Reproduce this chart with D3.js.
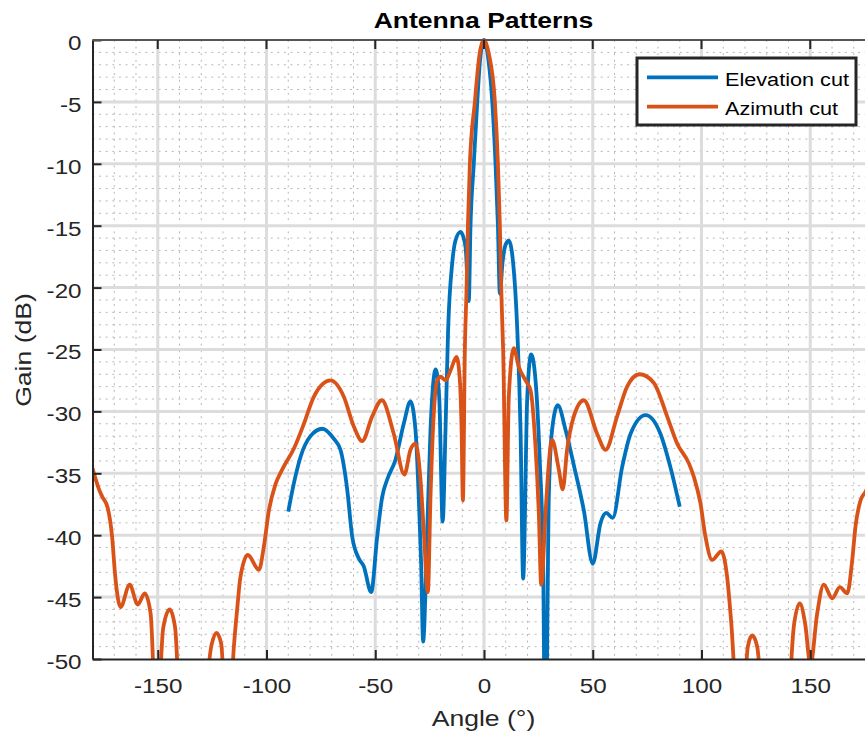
<!DOCTYPE html>
<html>
<head>
<meta charset="utf-8">
<script src="https://cdn.jsdelivr.net/npm/d3@7"></script>
<style>
  body { margin: 0; background: #fff; }
  svg { display: block; font-family: "Liberation Sans", Arial, Helvetica, sans-serif; }
</style>
</head>
<body>
<div id="chart"></div>
<script>
// Elevation cut (blue), -90..90 deg
const elevAngle = [-90, -87.4, -84.4, -79.8, -74.3, -69.1, -66, -62.9, -60.6, -57.5, -55.3, -51.9, -49.1, -46.8, -44.5, -40.7, -36.9, -33.8, -31.5, -30, -28.9, -28.0, -26.1, -24.6, -22.2, -20.6, -19.0, -17.7, -16.5, -14.6, -13.1, -10.8, -8.5, -7.0, -6.2, -4.7, -3.1, -1.8, 0, 2.1, 3.8, 5.3, 6.4, 7.3, 8.5, 10.0, 11.4, 13.7, 15.3, 16.8, 18.0, 19.9, 21.7, 23.7, 25.7, 27.2, 28.2, 29.8, 31.3, 33.9, 37.5, 41.5, 45.9, 50.0, 53.6, 56.2, 59.2, 63.5, 67.4, 74.3, 81.1, 85.7, 90];
const elevGain = [-38.1, -35.8, -33.7, -32.0, -31.4, -32.2, -33.1, -36.3, -40.1, -41.9, -42.5, -44.6, -40.1, -36.9, -35.5, -33.9, -31.0, -29.2, -31.5, -36.9, -42.3, -48.6, -39.6, -31.5, -26.6, -28.8, -38.9, -31.5, -23.4, -18.0, -16.2, -15.5, -16.7, -21.1, -15, -10, -5, -1.6, 0, -1.7, -5, -10, -15, -20.5, -18, -16.5, -16.2, -18.6, -23.4, -31.5, -43.5, -28.8, -25.4, -27.5, -34.2, -42.3, -60, -36.9, -31.5, -29.5, -31.5, -34.5, -38.0, -42.3, -39.0, -38.2, -38.6, -34.5, -31.8, -30.3, -31.8, -34.5, -37.7];

// Azimuth cut (orange), -180..180 deg
const azAngle = [-180, -177, -175.5, -173, -171, -169.5, -167.1, -162.9, -159.2, -156.0, -153.3, -150.5, -147.5, -144.5, -142, -139.5, -133, -125.2, -123, -120.8, -118, -115, -113.5, -112, -108.6, -103.5, -101.2, -98.9, -95.9, -92.8, -87.4, -82.8, -78.2, -70.6, -64.5, -59.9, -56.0, -51.4, -47.0, -41.5, -36.6, -33.8, -31.5, -29.2, -27.7, -25.8, -24.6, -23.1, -21.5, -20, -17.7, -15.4, -12.6, -11.1, -10.3, -9.7, -8.8, -8.0, -7.4, -6.5, -4.2, -2, 0, 2.2, 5.0, 6.4, 7.3, 7.9, 8.8, 10.3, 11.4, 13.7, 16.0, 19.1, 21.4, 23.7, 25.2, 26.3, 28.3, 29.8, 31.3, 34.4, 36.2, 38.2, 41.3, 45.9, 52, 55.9, 61.2, 65.8, 71.5, 78.1, 84.2, 88.8, 94.2, 96.5, 99.5, 101.8, 104.9, 109.1, 111.8, 113.6, 118, 121.3, 123.3, 125.6, 129.5, 135, 138, 142.5, 145.2, 147.7, 150.1, 153.2, 156.2, 160.1, 163.6, 167, 169.3, 170.8, 173.1, 175.4, 178, 180];
const azGain = [-34.6, -36.3, -36.9, -37.8, -40.1, -43.4, -45.8, -44.0, -45.6, -44.7, -46.3, -56, -47.5, -46.0, -47.5, -56, -62, -48.8, -47.9, -48.8, -58, -49, -46.0, -43.4, -41.6, -42.8, -40.9, -38.0, -35.9, -34.7, -33.0, -31.0, -28.8, -27.5, -28.8, -31.2, -32.4, -30.4, -29.1, -31.8, -35.1, -33.1, -32.6, -35.5, -39.6, -44.6, -36.9, -30.2, -27.5, -27.2, -27.5, -26.7, -25.6, -27.5, -31.5, -37.2, -25, -20, -15, -10, -5, -1.1, 0, -1.1, -5, -10, -15, -20, -25, -38.8, -28.8, -24.9, -26.4, -27.5, -28.3, -32.9, -38.2, -44.0, -38.2, -34.2, -32.3, -34.7, -36.3, -33.1, -30.4, -29.1, -31.8, -33.1, -30.4, -28.0, -27.0, -27.7, -30.4, -32.6, -34.2, -35.3, -37.4, -40.1, -42.0, -41.3, -43.4, -46.9, -58, -49, -48.1, -49, -58, -62, -60, -47.3, -45.5, -47.2, -50.5, -46.3, -44.0, -45.1, -44.2, -44.7, -42.0, -39.3, -37.2, -36.5, -35.5, -34.6];

const xTicks = [-150, -100, -50, 0, 50, 100, 150];
const yTicks = [0, -5, -10, -15, -20, -25, -30, -35, -40, -45, -50];
const seriesNames = ["Elevation cut", "Azimuth cut"];
const seriesColors = ["#0072BD", "#D95319"];

const width = 865, height = 738;
const mLeft = 92.5, mRight = 875.5, mTop = 40, mBottom = 659;
const wide = 1.18; // text in the picture is wider than plain Arial

const x = d3.scaleLinear().domain([-180, 180]).range([mLeft, mRight]);
const y = d3.scaleLinear().domain([-50, 0]).range([mBottom, mTop]);

const svg = d3.select("#chart").append("svg")
    .attr("width", width)
    .attr("height", height);

// minor grid (dotted)
const minor = svg.append("g")
    .attr("stroke", "#b8b8b8")
    .attr("stroke-width", 1)
    .attr("stroke-dasharray", "2,4.6");
minor.selectAll("line.mx")
    .data(d3.range(-170, 180, 10).filter(d => d % 50 !== 0))
    .join("line")
    .attr("class", "mx")
    .attr("x1", d => x(d)).attr("x2", d => x(d))
    .attr("y1", mTop).attr("y2", mBottom);
minor.selectAll("line.my")
    .data(d3.range(-49, 0, 1).filter(d => d % 5 !== 0))
    .join("line")
    .attr("class", "my")
    .attr("x1", mLeft).attr("x2", mRight)
    .attr("y1", d => y(d)).attr("y2", d => y(d));

// major grid
const major = svg.append("g")
    .attr("stroke", "#dcdcdc")
    .attr("stroke-width", 3);
major.selectAll("line.gx")
    .data(xTicks)
    .join("line")
    .attr("class", "gx")
    .attr("x1", d => x(d)).attr("x2", d => x(d))
    .attr("y1", mTop).attr("y2", mBottom);
major.selectAll("line.gy")
    .data(yTicks.filter(d => d !== 0 && d !== -50))
    .join("line")
    .attr("class", "gy")
    .attr("x1", mLeft).attr("x2", mRight)
    .attr("y1", d => y(d)).attr("y2", d => y(d));

// clip to axes
svg.append("clipPath").attr("id", "clip")
    .append("rect")
    .attr("x", mLeft).attr("y", mTop - 4)
    .attr("width", mRight - mLeft).attr("height", mBottom - mTop + 4);

const line = d3.line()
    .x(d => x(d[0]))
    .y(d => y(d[1]))
    .curve(d3.curveMonotoneX);

const series = [
    d3.zip(elevAngle, elevGain),
    d3.zip(azAngle, azGain)
];

svg.append("g")
    .attr("clip-path", "url(#clip)")
    .selectAll("path")
    .data(series)
    .join("path")
    .attr("d", line)
    .attr("fill", "none")
    .attr("stroke", (d, i) => seriesColors[i])
    .attr("stroke-width", 3.8)
    .attr("stroke-linejoin", "round");

// axes
const xAxis = svg.append("g")
    .attr("transform", `translate(0,${mBottom})`)
    .call(d3.axisBottom(x).tickValues(xTicks).tickSizeInner(-9).tickSizeOuter(0).tickPadding(19).tickFormat(d => d));
const yAxis = svg.append("g")
    .attr("transform", `translate(${mLeft},0)`)
    .call(d3.axisLeft(y).tickValues(yTicks).tickSizeInner(-9).tickSizeOuter(0).tickPadding(9.3).tickFormat(d => d));

[xAxis, yAxis].forEach(a => {
    a.select(".domain").attr("stroke", "#262626").attr("stroke-width", 2);
    a.selectAll(".tick line").attr("stroke", "#262626").attr("stroke-width", 2);
    a.selectAll(".tick text")
        .attr("fill", "#262626")
        .attr("transform", `scale(${wide},1)`)
        .style("font-size", "20.5px")
        .style("font-family", "Liberation Sans, Arial, sans-serif");
});
yAxis.selectAll(".tick text").attr("dy", "0.46em");

// top box edge with ticks
svg.append("line")
    .attr("x1", mLeft).attr("x2", mRight)
    .attr("y1", mTop).attr("y2", mTop)
    .attr("stroke", "#555").attr("stroke-width", 2);
svg.append("g").selectAll("line")
    .data(xTicks)
    .join("line")
    .attr("x1", d => x(d)).attr("x2", d => x(d))
    .attr("y1", mTop).attr("y2", mTop + 9)
    .attr("stroke", "#262626").attr("stroke-width", 2);

// title and labels
svg.append("text")
    .attr("transform", `translate(483.5,27.5) scale(${wide},1)`)
    .attr("text-anchor", "middle")
    .attr("font-weight", "bold")
    .attr("font-size", 22.5)
    .attr("fill", "#000")
    .text("Antenna Patterns");

svg.append("text")
    .attr("transform", `translate(483.5,726) scale(${wide},1)`)
    .attr("text-anchor", "middle")
    .attr("font-size", 22.5)
    .attr("fill", "#262626")
    .text("Angle (°)");

svg.append("text")
    .attr("transform", `translate(31,350) rotate(-90) scale(${wide},1)`)
    .attr("text-anchor", "middle")
    .attr("font-size", 22.5)
    .attr("fill", "#262626")
    .text("Gain (dB)");

// legend
const legend = svg.append("g");
legend.append("rect")
    .attr("x", 637).attr("y", 58)
    .attr("width", 219).attr("height", 67)
    .attr("fill", "#fff")
    .attr("stroke", "#262626")
    .attr("stroke-width", 3);
seriesNames.forEach((name, i) => {
    const ly = 77.3 + i * 29.4;
    legend.append("line")
        .attr("x1", 647).attr("x2", 718)
        .attr("y1", ly).attr("y2", ly)
        .attr("stroke", seriesColors[i])
        .attr("stroke-width", 3.8);
    legend.append("text")
        .attr("transform", `translate(725,${ly + 8.2}) scale(1.14,1)`)
        .attr("font-size", 19)
        .attr("fill", "#000")
        .text(name);
});
</script>
</body>
</html>
